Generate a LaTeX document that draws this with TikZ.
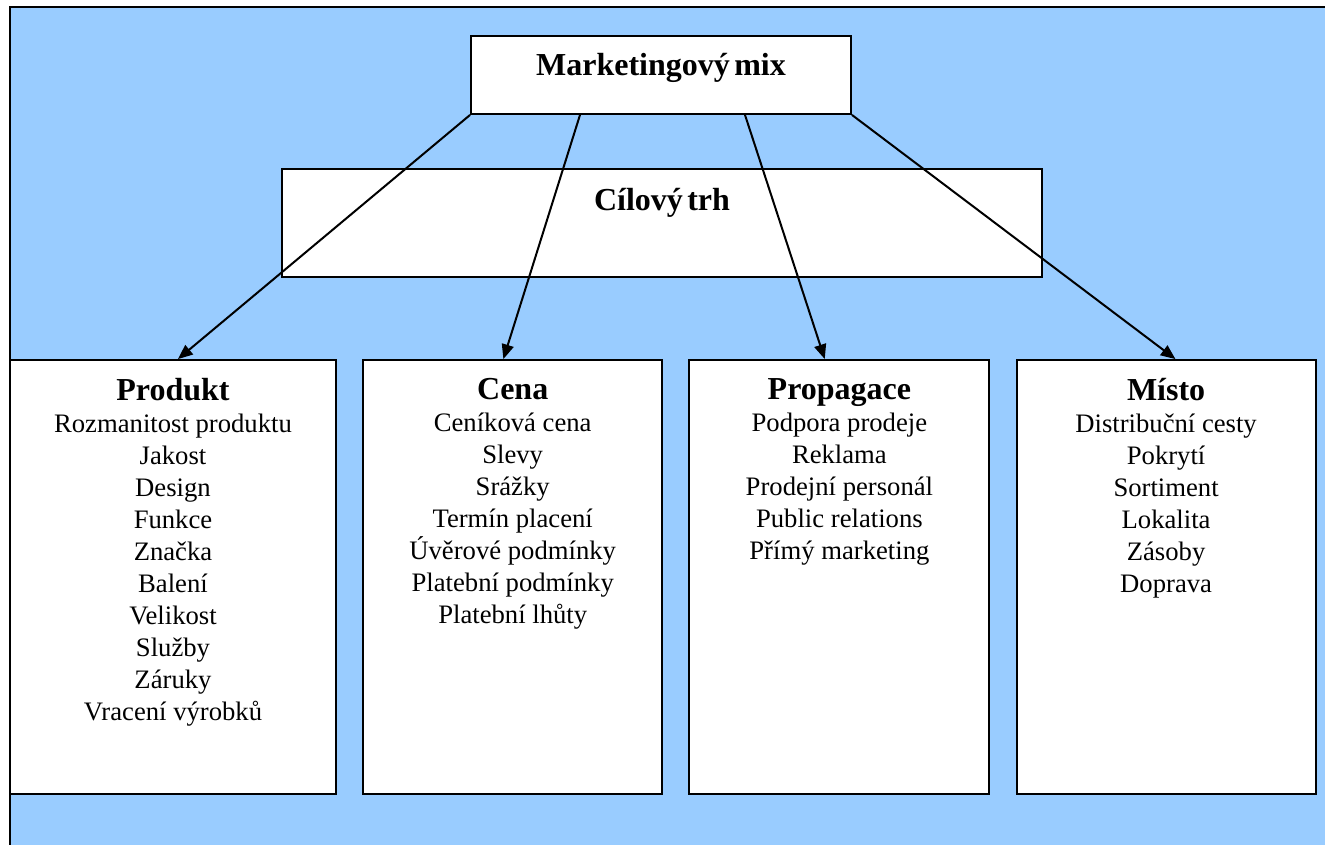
\documentclass[tikz,border=0pt]{standalone}
\usepackage{fontspec}
\setmainfont{Liberation Serif}
\usepackage{tikz}
\usetikzlibrary{positioning, arrows.meta}
\definecolor{modra}{RGB}{153,204,255}
\newcommand{\nadpis}[1]{{\fontsize{24}{24}\selectfont\bfseries #1}}
\tikzstyle{ram}=[draw, line width = 1.4pt, fill = white, inner sep = 0pt]
\tikzstyle{sloupec}=[ram, minimum height = 325.5pt]
\tikzstyle{polozky}=[align = center, inner sep = 0pt, font = \fontsize{20}{24}\selectfont]
\tikzstyle{sipka}=[-{Triangle[length = 11pt, width = 9pt]}, line width = 1.5pt]

\begin{document}
\begin{tikzpicture}[x = 0.75pt, y = -0.75pt]
  \useasboundingbox (0,0) rectangle (1325,845);
  \fill[modra] (10,7) rectangle (1325,845);
  \draw[line width = 1.5pt] (10,845) -- (10,7) -- (1325,7);

  \node[ram, text width = 285pt, align = center, text height = 30pt, text depth = 28.5pt] (mix) at (661,75) {\nadpis{Marketingový mix}};
  \node[ram, text width = 570pt, align = center, text height = 31.5pt, text depth = 49.5pt] (cil) at (662,223) {\nadpis{Cílový trh}};

  \node[sloupec, minimum width = 244.5pt] (prod) at (173,577) {};
  \node[sloupec, minimum width = 224.25pt, right = 19pt of prod] (cena) {};
  \node[sloupec, minimum width = 225pt, right = 19pt of cena] (prop) {};
  \node[sloupec, minimum width = 224.25pt, right = 19pt of prop] (misto) {};

  \node[polozky, below = 14.25pt of prod.north] (prodtxt) {\nadpis{Produkt}\\ Rozmanitost produktu\\ Jakost\\ Design\\ Funkce\\ Značka\\ Balení\\ Velikost\\ Služby\\ Záruky\\ Vracení výrobků};
  \node[polozky, below = 14.25pt of cena.north] (cenatxt) {\nadpis{Cena}\\ Ceníková cena\\ Slevy\\ Srážky\\ Termín placení\\ Úvěrové podmínky\\ Platební podmínky\\ Platební lhůty};
  \node[polozky, below = 14.25pt of prop.north] (proptxt) {\nadpis{Propagace}\\ Podpora prodeje\\ Reklama\\ Prodejní personál\\ Public relations\\ Přímý marketing};
  \node[polozky, below = 14.25pt of misto.north] (mistotxt) {\nadpis{Místo}\\ Distribuční cesty\\ Pokrytí\\ Sortiment\\ Lokalita\\ Zásoby\\ Doprava};

  \draw[sipka] (mix.south west) -- ([xshift = 3.75pt]prod.north);
  \draw[sipka] ([xshift = -60.75pt]mix.south) -- ([xshift = -7pt]cena.north);
  \draw[sipka] ([xshift = 63pt]mix.south) -- ([xshift = -11pt]prop.north);
  \draw[sipka] (mix.south east) -- ([xshift = 7pt]misto.north);
\end{tikzpicture}
\end{document}
